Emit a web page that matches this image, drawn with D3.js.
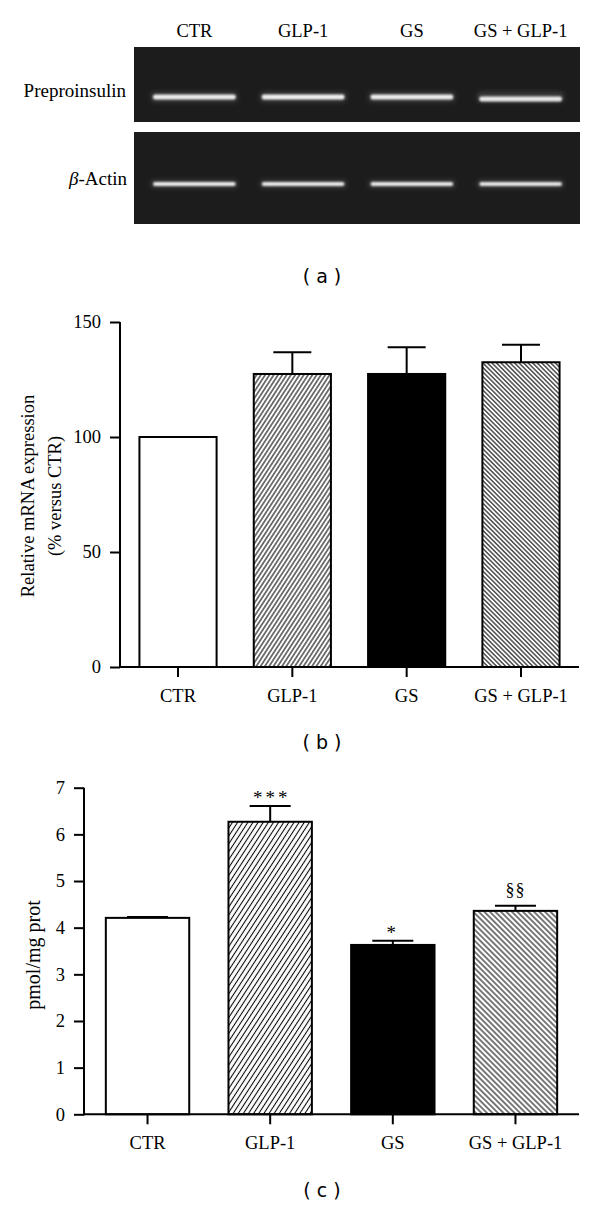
<!DOCTYPE html>
<html><head><meta charset="utf-8">
<script src="https://cdn.jsdelivr.net/npm/d3@7"></script>
<style>body{margin:0;background:#fff}svg{display:block}</style></head>
<body><svg id="chart" width="600" height="1207"></svg>
<script>
// ---- data ----
const lanes = ["CTR", "GLP-1", "GS", "GS + GLP-1"];
const gelRows = ["Preproinsulin", "β-Actin"];
const preproBand = [0.86, 0.9, 0.88, 0.85];
const actinBand = [0.86, 0.84, 0.84, 0.82];

const categories = ["CTR", "GLP-1", "GS", "GS + GLP-1"];
const mrnaMean = [100, 127.4, 127.4, 132.5];
const mrnaSem = [0, 9.4, 11.6, 7.6];
const mrnaTicks = [0, 50, 100, 150];

const insMean = [4.21, 6.27, 3.63, 4.36];
const insSem = [0.02, 0.34, 0.09, 0.11];
const insTicks = [0, 1, 2, 3, 4, 5, 6, 7];
const insMarks = ["", "***", "*", "§§"];

const panelLetters = ["( a )", "( b )", "( c )"];

// ---- setup ----
const svg = d3.select("#chart");
svg.append("rect").attr("width", 600).attr("height", 1207).attr("fill", "#fff");
const defs = svg.append("defs");
const SERIF = "'Liberation Serif','Times New Roman',serif";
const SANS = "'DejaVu Sans',Verdana,sans-serif";

function hatch(id, spacing, angle) {
  const p = defs.append("pattern").attr("id", id)
    .attr("patternUnits", "userSpaceOnUse")
    .attr("width", spacing).attr("height", 10)
    .attr("patternTransform", `rotate(${angle})`);
  p.append("rect").attr("width", spacing).attr("height", 10).attr("fill", "#fff");
  p.append("line").attr("x1", spacing / 2).attr("x2", spacing / 2)
    .attr("y1", 0).attr("y2", 10).attr("stroke", "#000").attr("stroke-width", 1.05);
}
hatch("fwdB", 3.6, 33);
hatch("backB", 3.2, -45);
hatch("fwdC", 4.3, 33);
hatch("backC", 3.9, -45);

const blur = defs.append("filter").attr("id", "glow").attr("x", "-20%").attr("y", "-200%").attr("width", "140%").attr("height", "500%");
blur.append("feGaussianBlur").attr("stdDeviation", 1.1);
const blur2 = defs.append("filter").attr("id", "glow2").attr("x", "-20%").attr("y", "-300%").attr("width", "140%").attr("height", "700%");
blur2.append("feGaussianBlur").attr("stdDeviation", 2.5);

// ---- (a) gel ----
const laneX = d3.scaleBand().domain(lanes).range([140, 575]).paddingInner(0.24).paddingOuter(0.12);
const gel = svg.append("g");
const panels = [
  { name: gelRows[0], y0: 47, y1: 122, bandY: 97, h: 5, vals: preproBand },
  { name: gelRows[1], y0: 132, y1: 224, bandY: 184, h: 4, vals: actinBand }
];
panels.forEach((p, pi) => {
  gel.append("rect").attr("x", 134).attr("y", p.y0).attr("width", 446).attr("height", p.y1 - p.y0)
    .attr("fill", "#1c1c1c");
  gel.selectAll(null).data(lanes).enter().append("rect")
    .attr("x", d => laneX(d) - 2).attr("y", p.bandY - p.h)
    .attr("width", laneX.bandwidth() + 4).attr("height", p.h * 2)
    .attr("rx", 3).attr("fill", "#888").attr("opacity", 0.3).attr("filter", "url(#glow2)");
  gel.selectAll(null).data(lanes).enter().append("rect")
    .attr("x", d => laneX(d)).attr("y", (d, i) => p.bandY - p.h / 2 + (pi === 0 && i === 3 ? 2 : 0))
    .attr("width", laneX.bandwidth()).attr("height", p.h)
    .attr("rx", 2)
    .attr("fill", (d, i) => d3.interpolateGreys(1 - p.vals[i]))
    .attr("filter", "url(#glow)");
});
gel.append("text").attr("x", 126).attr("y", 97).attr("text-anchor", "end")
  .attr("font-family", SERIF).attr("font-size", 19).text(gelRows[0]);
const act = gel.append("text").attr("x", 127).attr("y", 185).attr("text-anchor", "end")
  .attr("font-family", SERIF).attr("font-size", 19);
act.append("tspan").attr("font-style", "italic").text(gelRows[1].slice(0, 1));
act.append("tspan").text(gelRows[1].slice(1));
gel.selectAll(null).data(lanes).enter().append("text")
  .attr("x", d => laneX(d) + laneX.bandwidth() / 2).attr("y", 36.5)
  .attr("text-anchor", "middle").attr("font-family", SERIF).attr("font-size", 18.5)
  .text(d => d);

// ---- bar chart helper ----
function barChart(o) {
  const g = svg.append("g");
  const x = d3.scaleBand().domain(categories).range([o.left, o.right])
    .paddingInner(o.padIn).paddingOuter(o.padOut);
  const y = d3.scaleLinear().domain([0, o.max]).range([o.bottom, o.top]);
  const fills = ["#fff", `url(#${o.fwd})`, "#000", `url(#${o.back})`];
  g.selectAll(".bar").data(o.means).enter().append("rect")
    .attr("x", (d, i) => x(categories[i]))
    .attr("y", d => y(d))
    .attr("width", x.bandwidth())
    .attr("height", d => y(0) - y(d))
    .attr("fill", (d, i) => fills[i])
    .attr("stroke", "#000").attr("stroke-width", 2);
  o.means.forEach((m, i) => {
    const s = o.sems[i];
    if (!s) return;
    const cx = x(categories[i]) + x.bandwidth() / 2;
    g.append("line").attr("x1", cx).attr("x2", cx).attr("y1", y(m)).attr("y2", y(m + s))
      .attr("stroke", "#000").attr("stroke-width", 2);
    g.append("line").attr("x1", cx - o.capW / 2).attr("x2", cx + o.capW / 2)
      .attr("y1", y(m + s)).attr("y2", y(m + s))
      .attr("stroke", "#000").attr("stroke-width", 2);
    if (o.marks && o.marks[i]) {
      const isStar = o.marks[i].indexOf("*") >= 0;
      g.append("text").attr("x", cx + (isStar && o.marks[i].length > 1 ? 1.5 : 0))
        .attr("y", y(m + s) - (isStar ? 2 : 10))
        .attr("text-anchor", "middle").attr("font-family", SERIF)
        .attr("font-size", isStar ? 19 : 18)
        .attr("letter-spacing", isStar ? 3 : 1)
        .text(o.marks[i]);
    }
  });
  const ya = g.append("g").attr("transform", `translate(${o.left},0)`)
    .call(d3.axisLeft(y).tickValues(o.ticks).tickSize(10).tickSizeOuter(0).tickPadding(9).tickFormat(d3.format("d")));
  const xa = g.append("g").attr("transform", `translate(0,${o.bottom})`)
    .call(d3.axisBottom(x).tickSize(10).tickSizeOuter(0).tickPadding(12));
  [ya, xa].forEach(a => {
    a.selectAll("path,line").attr("stroke", "#000").attr("stroke-width", 2);
    a.selectAll("text").attr("font-family", SERIF).attr("font-size", 18.5).attr("fill", "#000");
  });
  xa.select(".domain").attr("d", `M${o.left - 1},0H${o.right}`);
  ya.select(".domain").attr("d", `M0,${o.top}V${o.bottom + 1}`);
  return g;
}

// ---- (b) ----
const gb = barChart({ left: 120, right: 579, top: 322, bottom: 667, max: 150,
  padIn: 0.325, padOut: 0.17, ticks: mrnaTicks, means: mrnaMean, sems: mrnaSem,
  capW: 38, fwd: "fwdB", back: "backB" });
const lab = gb.append("text").attr("transform", "translate(0,496) rotate(-90)")
  .attr("text-anchor", "middle").attr("font-family", SERIF).attr("font-size", 18.5);
lab.append("tspan").attr("x", 0).attr("y", 34).text("Relative mRNA expression");
lab.append("tspan").attr("x", 0).attr("y", 61).text("(% versus CTR)");

// ---- (c) ----
const gc = barChart({ left: 84, right: 579, top: 787.7, bottom: 1114.3, max: 7,
  padIn: 0.32, padOut: 0.178, ticks: insTicks, means: insMean, sems: insSem,
  marks: insMarks, capW: 41, fwd: "fwdC", back: "backC" });
gc.append("text").attr("transform", "translate(40,955) rotate(-90)")
  .attr("text-anchor", "middle").attr("font-family", SERIF).attr("font-size", 20)
  .text("pmol/mg prot");

// ---- panel letters ----
svg.selectAll(".pl").data(panelLetters).enter().append("text")
  .attr("x", 322).attr("y", (d, i) => [283, 749, 1197][i])
  .attr("text-anchor", "middle").attr("font-family", SANS).attr("font-size", 19)
  .attr("xml:space", "preserve").style("white-space", "pre")
  .text(d => d);
</script>
</body></html>
